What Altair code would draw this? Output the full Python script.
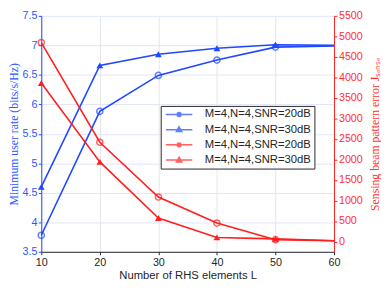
import altair as alt
import pandas as pd

# ---------------- data ----------------
L_values = [10, 20, 30, 40, 50, 60]
rate_20dB = [3.78, 5.88, 6.49, 6.75, 6.97, 6.99]
rate_30dB = [4.60, 6.66, 6.85, 6.95, 7.01, 7.00]
err_20dB = [4850, 2420, 1085, 450, 45, 20]
err_30dB = [3865, 1940, 575, 100, 65, 20]
marker_L_max = 50

series_names = [
    "b20|M=4,N=4,SNR=20dB",
    "b30|M=4,N=4,SNR=30dB",
    "r20|M=4,N=4,SNR=20dB",
    "r30|M=4,N=4,SNR=30dB",
]
series_markers = ["circle", "triangle", "circle", "triangle"]

x_ticks = [10, 20, 30, 40, 50, 60]
left_ticks = [3.5, 4, 4.5, 5, 5.5, 6, 6.5, 7, 7.5]
right_ticks = [0, 500, 1000, 1500, 2000, 2500, 3000, 3500, 4000, 4500, 5000, 5500]

# ---------------- styles ----------------
BLUE = "#1f48ff"
BLUE_TXT = "#2d55ff"
RED = "#ff1f1f"
RED_TXT = "#ff3030"
DARK = "#262626"

series_colors = [BLUE, BLUE, RED, RED]
legend_paths = [
    "M-5.4,0H-0.8M0.8,0H5.4M-0.8,0A0.8,0.8,0,1,1,0.8,0A0.8,0.8,0,1,1,-0.8,0",
    "M-5.4,0H5.4M0,-1.15L1.1,0.8L-1.1,0.8Z",
    "M-5.4,0H-0.8M0.8,0H5.4M-0.8,0A0.8,0.8,0,1,1,0.8,0A0.8,0.8,0,1,1,-0.8,0",
    "M-5.4,0H5.4M0,-1.15L1.1,0.8L-1.1,0.8Z",
]
legend_fills = ["white", BLUE, "white", RED]

rows_b, rows_r = [], []
for i, L in enumerate(L_values):
    rows_b.append({"L": L, "rate": rate_20dB[i], "series": series_names[0], "marker": series_markers[0]})
    rows_b.append({"L": L, "rate": rate_30dB[i], "series": series_names[1], "marker": series_markers[1]})
    rows_r.append({"L": L, "err": err_20dB[i], "series": series_names[2], "marker": series_markers[2]})
    rows_r.append({"L": L, "err": err_30dB[i], "series": series_names[3], "marker": series_markers[3]})
blue_df = pd.DataFrame(rows_b)
red_df = pd.DataFrame(rows_r)

color_scale = alt.Scale(domain=series_names, range=series_colors)

x_enc = alt.X(
    "L:Q",
    scale=alt.Scale(domain=[10, 60], nice=False, zero=False),
    axis=alt.Axis(
        values=x_ticks, format="d", title="Number of RHS elements L",
        grid=True, gridColor="#e4e4ec", gridOpacity=1, labelOverlap=False,
        domainColor=DARK, tickColor=DARK, labelColor=DARK, titleColor=DARK,
        labelFont="Liberation Sans", labelFontSize=11,
        titleFont="Liberation Sans", titleFontSize=11.5, titleFontWeight="normal",
        tickSize=3, labelPadding=2, titlePadding=2, labelFlush=False,
    ),
)

y_left = alt.Y(
    "rate:Q",
    scale=alt.Scale(domain=[3.5, 7.5], nice=False, zero=False),
    axis=alt.Axis(
        values=left_ticks, format="~g", title="Minimum user rate (bits/s/Hz)",
        grid=True, gridColor="#dfe4fb", gridOpacity=1, labelOverlap=False,
        domainColor=BLUE, tickColor=BLUE, labelColor=BLUE_TXT, titleColor=BLUE_TXT,
        labelFont="Liberation Sans", labelFontSize=11,
        titleFont="Liberation Serif", titleFontSize=12, titleFontWeight="normal",
        tickSize=3, labelPadding=1.5, titlePadding=2,
    ),
)

y_right = alt.Y(
    "err:Q",
    scale=alt.Scale(domain=[-250, 5500], nice=False, zero=False),
    axis=alt.Axis(
        orient="right", values=right_ticks, format="d",
        title="Sensing beam pattern error Jₛₑₙₛₑ",
        grid=False, labelOverlap=False,
        domainColor=RED, tickColor=RED, labelColor=RED_TXT, titleColor=RED_TXT,
        labelFont="Liberation Sans", labelFontSize=11,
        titleFont="Liberation Serif", titleFontSize=12, titleFontWeight="normal",
        titleAngle=270, titleBaseline="top",
        tickSize=3, labelPadding=1.5, titlePadding=7,
    ),
)

legend_cfg = alt.Legend(
    title=None, orient="none", legendX=122, legendY=92, direction="vertical",
    labelExpr="split(datum.label, '|')[1]",
    labelFont="Liberation Sans", labelFontSize=11.5, labelColor=DARK,
    symbolSize=25, symbolStrokeWidth=1.5, symbolOffset=10, labelOffset=20.5,
    padding=3, rowPadding=2.5, strokeColor=DARK, fillColor="white", cornerRadius=0,
)
color_enc = alt.Color("series:N", scale=color_scale, legend=legend_cfg)

# ---------------- blue (left axis) ----------------
b_base = alt.Chart(blue_df).encode(x=x_enc, y=y_left, color=color_enc)
b_line = b_base.mark_line(strokeWidth=1.6)
b_circ = b_base.mark_point(shape="circle", size=40, strokeWidth=1.5, filled=False).transform_filter(
    (alt.datum.L <= marker_L_max) & (alt.datum.marker == "circle"))
b_tri = b_base.mark_point(shape="triangle-up", size=48, filled=True, opacity=1).transform_filter(
    (alt.datum.L <= marker_L_max) & (alt.datum.marker == "triangle"))
legend_layer = b_base.mark_point(filled=False, strokeWidth=1.5).encode(
    shape=alt.Shape("series:N", scale=alt.Scale(domain=series_names, range=legend_paths),
                    legend=legend_cfg),
    fill=alt.Fill("series:N", scale=alt.Scale(domain=series_names, range=legend_fills),
                  legend=legend_cfg),
).transform_filter("false")
blue = alt.layer(b_line, b_circ, b_tri, legend_layer)

# ---------------- red (right axis) ----------------
r_base = alt.Chart(red_df).encode(x=x_enc, y=y_right, color=color_enc)
r_line = r_base.mark_line(strokeWidth=1.6)
r_circ = r_base.mark_point(shape="circle", size=40, strokeWidth=1.5, filled=False).transform_filter(
    (alt.datum.L <= marker_L_max) & (alt.datum.marker == "circle"))
r_tri = r_base.mark_point(shape="triangle-up", size=48, filled=True, opacity=1).transform_filter(
    (alt.datum.L <= marker_L_max) & (alt.datum.marker == "triangle"))
red = alt.layer(r_line, r_circ, r_tri)

chart = (
    alt.layer(blue, red)
    .resolve_scale(y="independent")
    .properties(
        width=299, height=241,
        autosize=alt.AutoSizeParams(type="none"),
        padding={"left": 34, "top": 5, "right": 48, "bottom": 36},
    )
    .configure_view(stroke=None)
)

chart.save("out.html", embed_options={"renderer": "svg", "actions": False})
